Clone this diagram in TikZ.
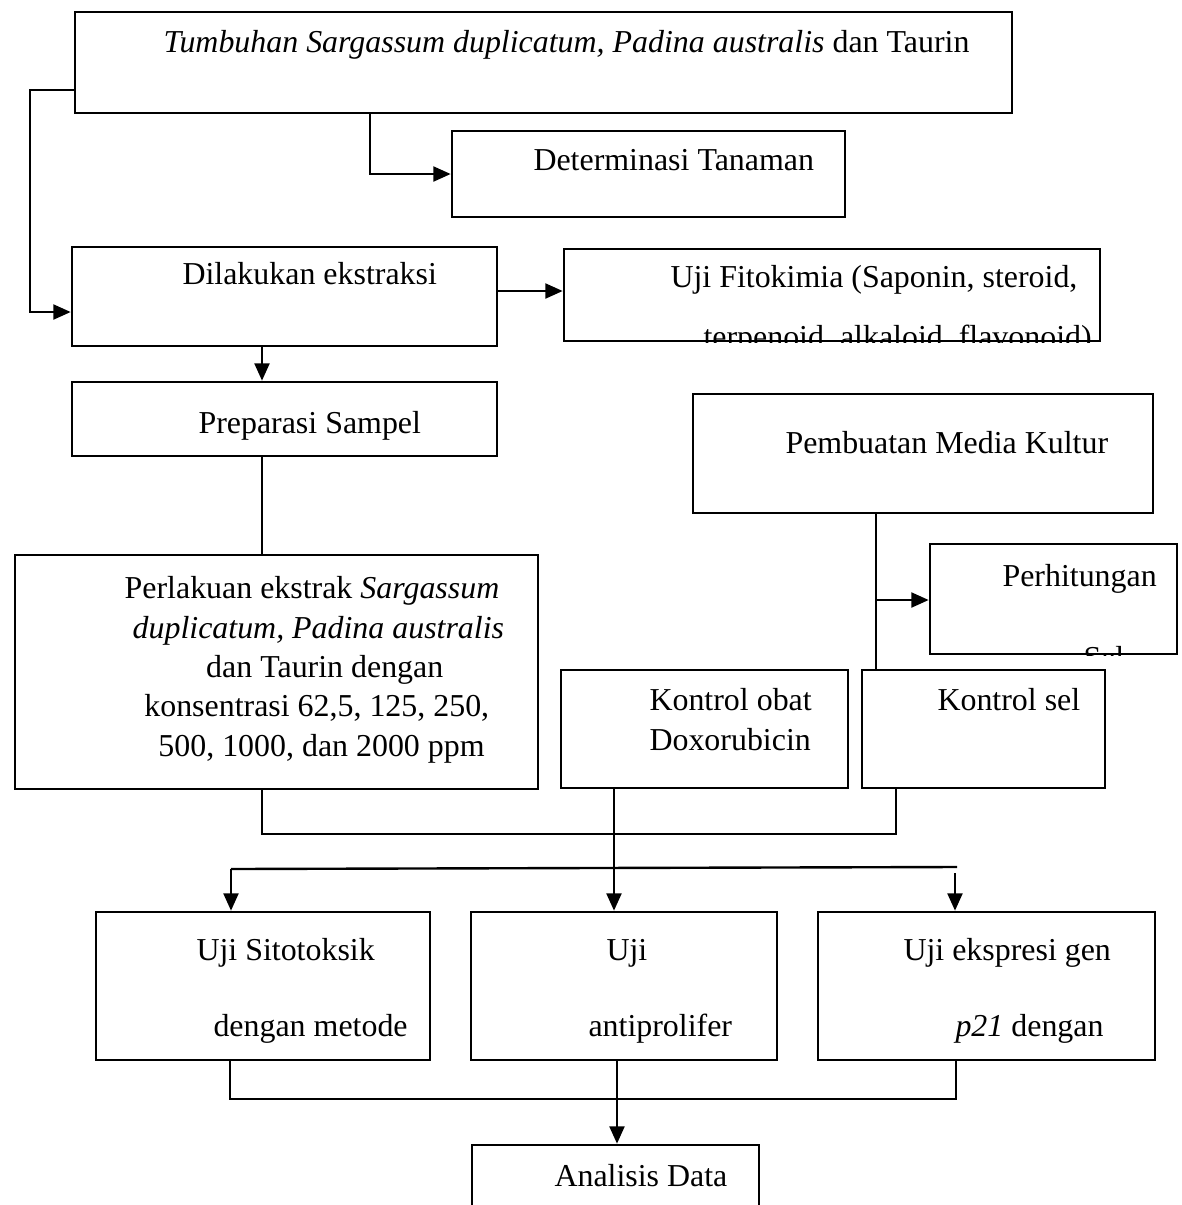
\documentclass[tikz,border=0pt]{standalone}
\usepackage{fontspec}
\setmainfont{Liberation Serif}
\usetikzlibrary{arrows.meta,fit}

\begin{document}
\begin{tikzpicture}[x=0.376pt,y=-0.376pt,
  box/.style={draw=black,line width=1pt,inner sep=0pt},
  txt/.style={anchor=base west,inner sep=0pt,font=\fontsize{12}{14.8}\selectfont},
  line/.style={draw=black,line width=0.9pt},
  arr/.style={line,-{Triangle[length=6.5pt,width=5.6pt]}}]
\useasboundingbox (0,0) rectangle (1181,1205);

\node[box,fit={(75,12) (1012,113)}] (plant) {};
\node[box,fit={(452,131) (845,217)}] (determ) {};
\node[box,fit={(72,247) (497,346)}] (extract) {};
\node[box,fit={(564,249) (1100,341)}] (phyto) {};
\node[box,fit={(72,382) (497,456)}] (prep) {};
\node[box,fit={(15,555) (538,789)}] (treat) {};
\node[box,fit={(693,394) (1153,513)}] (media) {};
\node[box,fit={(930,544) (1177,654)}] (count) {};
\node[box,fit={(561,670) (848,788)}] (doxo) {};
\node[box,fit={(862,670) (1105,788)}] (cellctl) {};
\node[box,fit={(96,912) (430,1060)}] (cyto) {};
\node[box,fit={(471,912) (777,1060)}] (antip) {};
\node[box,fit={(818,912) (1155,1060)}] (gene) {};
\node[box,fit={(472,1145) (759,1230)}] (data) {};

\node[txt] (plant-t) at (163,52) {\textit{Tumbuhan Sargassum duplicatum, Padina australis} dan Taurin};
\node[txt] (determ-t) at (533,170) {Determinasi Tanaman};
\node[txt] (extract-t) at (182,284) {Dilakukan ekstraksi};
\node[txt] (phyto-t1) at (670,287) {Uji Fitokimia (Saponin, steroid,};
\begin{scope}
\clip (phyto.north west) rectangle (phyto.south east);
\node[txt] (phyto-t2) at (703,347) {terpenoid, alkaloid, flavonoid)};
\end{scope}
\node[txt] (prep-t) at (198,433) {Preparasi Sampel};
\node[txt,anchor=north,align=center] (treat-t) at (312,576) {Perlakuan ekstrak \textit{Sargassum}\\
  \hspace*{0.4em}\textit{duplicatum, Padina australis}\\\hspace*{0.8em}dan Taurin dengan\\
  \hspace*{0.3em}konsentrasi 62,5, 125, 250,\\\hspace*{0.6em}500, 1000, dan 2000 ppm};
\node[txt] (media-t) at (785,453) {Pembuatan Media Kultur};
\node[txt] (count-t1) at (1002,586) {Perhitungan};
\begin{scope}
\clip (count.north west) rectangle (count.south east);
\node[txt] (count-t2) at (1083,668) {Sel};
\end{scope}
\node[txt,anchor=north west,align=left] (doxo-t) at (649,688) {Kontrol obat\\Doxorubicin};
\node[txt] (cellctl-t) at (937,710) {Kontrol sel};
\node[txt] (cyto-t1) at (196,960) {Uji Sitotoksik};
\node[txt] (cyto-t2) at (213,1036) {dengan metode};
\node[txt] (antip-t1) at (606,960) {Uji};
\node[txt] (antip-t2) at (588,1036) {antiprolifer};
\node[txt] (gene-t1) at (903,960) {Uji ekspresi gen};
\node[txt] (gene-t2) at (955,1036) {\textit{p21} dengan};
\node[txt] (data-t) at (554,1186) {Analisis Data};

\draw[arr] (plant.west |- 0,90) -- (30,90) |- (extract.west |- 0,312);
\draw[arr] (plant.south -| 370,0) |- (determ.west |- 0,174);
\draw[arr] (extract.east |- 0,291) -- (phyto.west |- 0,291);
\draw[arr] (extract.south -| 262,0) -- (prep.north -| 262,0);
\draw[line] (prep.south -| 262,0) -- (treat.north -| 262,0);
\draw[line] (media.south -| 876,0) -- (cellctl.north -| 876,0);
\coordinate (split) at (876,600);
\draw[arr] (split) -- (count.west |- split);
\draw[line] (treat.south -| 262,0) |- (896,834) -- (cellctl.south -| 896,0);
\draw[arr] (doxo.south -| 614,0) -- (antip.north -| 614,0);
\coordinate (busL) at (231,869);
\coordinate (busR) at (957,867);
\coordinate (busRgap) at (955,873);
\draw[line] (busL) -- (busR);
\draw[arr] (busL) -- (cyto.north -| busL);
\draw[arr] (busRgap) -- (gene.north -| busRgap);
\draw[line] (cyto.south -| 230,0) |- (956,1099) -- (gene.south -| 956,0);
\draw[arr] (antip.south -| 617,0) -- (data.north -| 617,0);
\end{tikzpicture}
\end{document}
